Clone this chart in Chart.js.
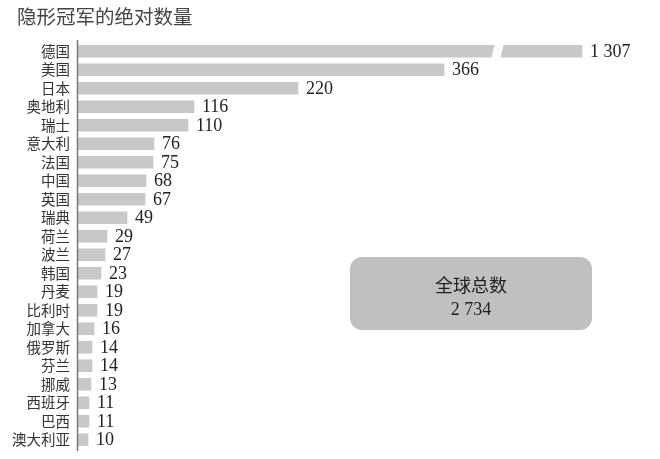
<!DOCTYPE html>
<html>
<head>
<meta charset="utf-8">
<script src="https://cdn.jsdelivr.net/npm/chart.js@4/dist/chart.umd.min.js"></script>
<style>
  html, body { margin: 0; padding: 0; background: #fff; }
  canvas { display: block; }
</style>
</head>
<body>
<canvas id="c" width="660" height="459"></canvas>
<script>
const title = "隐形冠军的绝对数量";
const countries = ["德国", "美国", "日本", "奥地利", "瑞士", "意大利", "法国", "中国", "英国", "瑞典", "荷兰",
    "波兰", "韩国", "丹麦", "比利时", "加拿大", "俄罗斯", "芬兰", "挪威", "西班牙", "巴西", "澳大利亚"];
const counts = [1307, 366, 220, 116, 110, 76, 75, 68, 67, 49, 29, 27, 23, 19, 19, 16, 14, 14, 13, 11, 11, 10];
const totalLabel = "全球总数";
const total = 2734;

// the German bar is drawn with an axis break
const barCap = 504;
const breakAt = 416;

const cjk = '"Noto Sans CJK SC", "Noto Sans", sans-serif';
const serif = '"Liberation Serif", "DejaVu Serif", serif';

const fmt = n => String(n).replace(/\B(?=(\d{3})+(?!\d))/g, " ");

const decor = {
    id: 'decor',
    afterDatasetsDraw(chart) {
        const ctx = chart.ctx;
        const x = chart.scales.x, y = chart.scales.y;
        const area = chart.chartArea;

        // left axis line
        ctx.save();
        ctx.strokeStyle = "#777";
        ctx.lineWidth = 1.5;
        ctx.beginPath();
        ctx.moveTo(area.left - 0.5, area.top - 2);
        ctx.lineTo(area.left - 0.5, area.bottom + 2);
        ctx.stroke();

        // break gap on the capped bar
        counts.forEach((v, i) => {
            if (v <= barCap) return;
            const bx = x.getPixelForValue(breakAt);
            const by = y.getPixelForValue(i);
            ctx.fillStyle = "#fff";
            ctx.beginPath();
            ctx.moveTo(bx + 1, by - 8);
            ctx.lineTo(bx + 10, by - 8);
            ctx.lineTo(bx + 6, by + 8);
            ctx.lineTo(bx - 3, by + 8);
            ctx.closePath();
            ctx.fill();
        });

        // value labels
        ctx.fillStyle = "#222";
        ctx.font = '18px ' + serif;
        ctx.textAlign = "left";
        ctx.textBaseline = "middle";
        counts.forEach((v, i) => {
            const px = x.getPixelForValue(Math.min(v, barCap));
            ctx.fillText(fmt(v), px + 8, y.getPixelForValue(i) + 1);
        });

        // title
        ctx.fillStyle = "#444";
        ctx.font = '19.5px ' + cjk;
        ctx.fillText(title, 17, 17);

        // total box
        const bxl = 350, byt = 257, bw = 242, bh = 73, r = 12;
        ctx.fillStyle = "#bfc0c2";
        ctx.beginPath();
        ctx.roundRect(bxl, byt, bw, bh, r);
        ctx.fill();
        ctx.fillStyle = "#222";
        ctx.textAlign = "center";
        ctx.font = '18px ' + cjk;
        ctx.fillText(totalLabel, bxl + bw / 2, 285);
        ctx.font = '18px ' + serif;
        ctx.fillText(fmt(total), bxl + bw / 2, 310);
        ctx.restore();
    }
};

new Chart(document.getElementById("c"), {
    type: 'bar',
    data: {
        labels: countries,
        datasets: [{
            data: counts.map(v => Math.min(v, barCap)),
            backgroundColor: "#c8c8c8",
            borderWidth: 0,
            barThickness: 12
        }]
    },
    options: {
        indexAxis: 'y',
        responsive: false,
        animation: false,
        devicePixelRatio: 1,
        layout: {padding: {left: 10, right: 20, top: 42, bottom: 10}},
        scales: {
            x: {display: false, min: 0, max: 562},
            y: {
                grid: {display: false},
                border: {display: false},
                afterFit(scale) {
                    scale.width = 68;
                    scale.paddingTop = 0;
                    scale.paddingBottom = 0;
                },
                ticks: {
                    autoSkip: false,
                    padding: 0,
                    color: "#333",
                    font: {family: cjk, size: 14.5}
                }
            }
        },
        plugins: {
            legend: {display: false},
            tooltip: {enabled: false}
        }
    },
    plugins: [decor]
});
</script>
</body>
</html>
